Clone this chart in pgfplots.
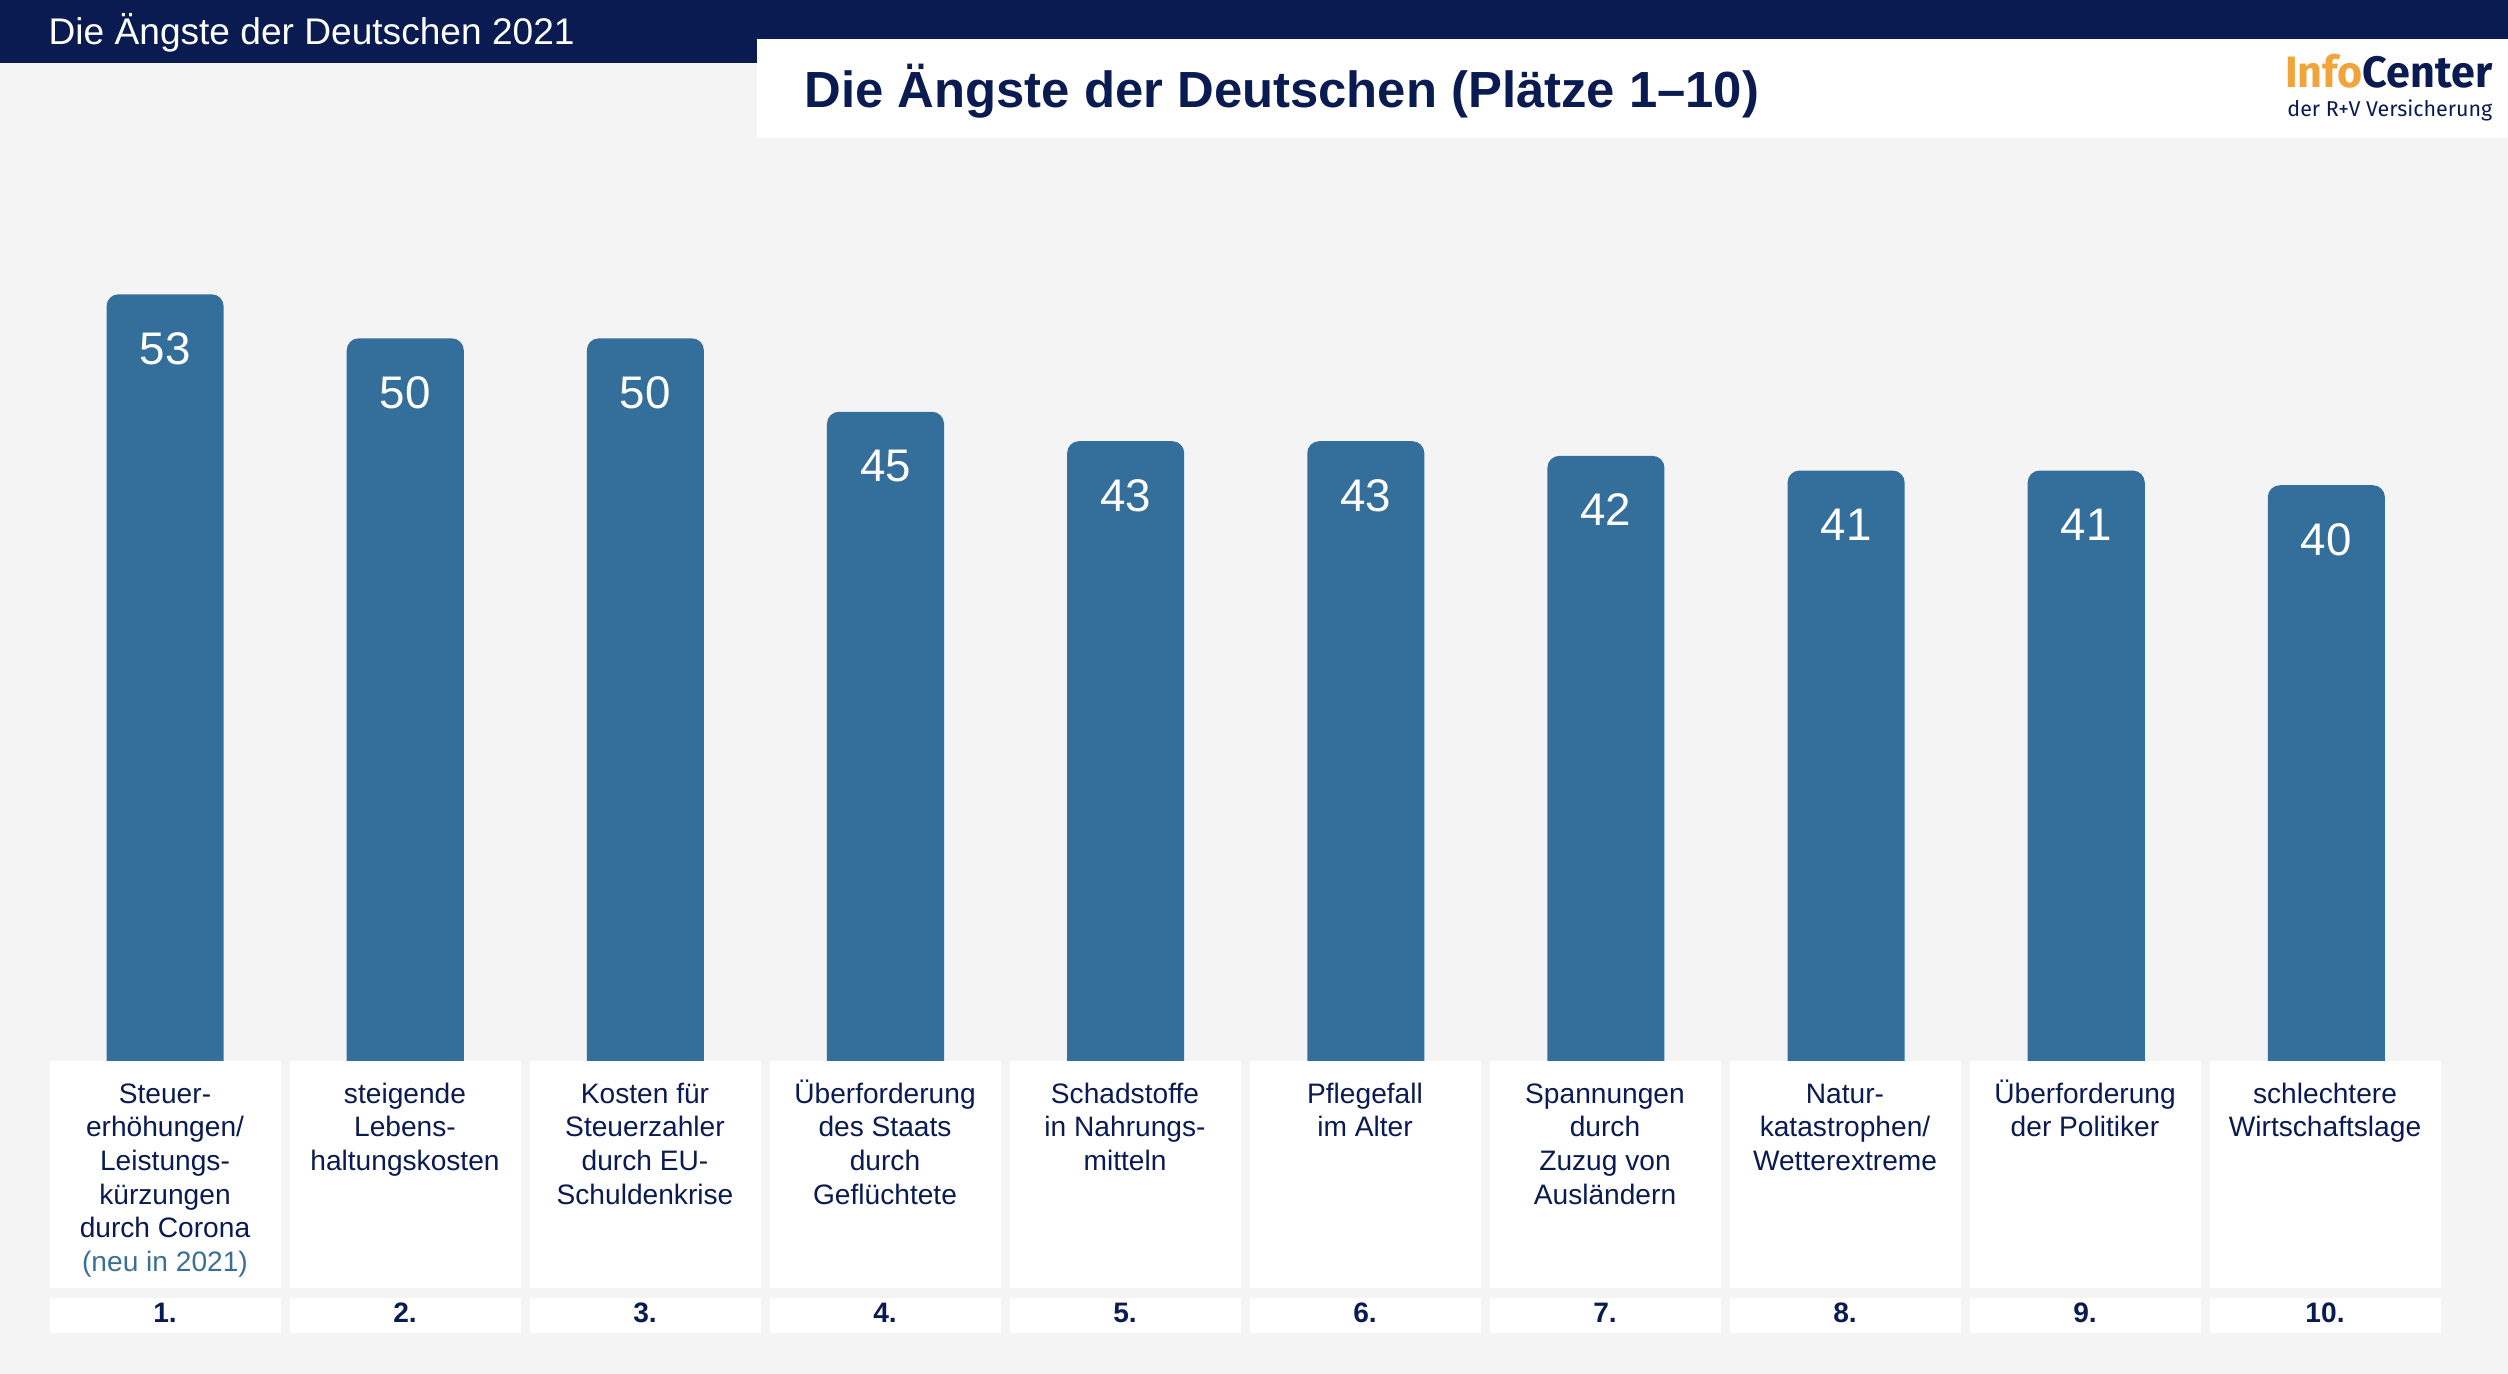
\documentclass[border=0pt]{standalone}
\usepackage{pgfplots}
\pgfplotsset{compat=1.18}
\usepackage{graphicx}
\usepackage{fontspec}
\setmainfont{Liberation Sans}
\newfontfamily\logofont{Fira Sans}

\definecolor{navy}{RGB}{10,27,82}
\definecolor{barblue}{RGB}{51,111,154}
\definecolor{bggray}{RGB}{244,244,244}
\definecolor{logoorange}{RGB}{240,164,58}
\definecolor{neublue}{RGB}{58,112,150}

\begin{document}
\begin{tikzpicture}
% page and header (1 unit = 1 px of the reference, y upwards)
\begin{scope}[x=0.01cm, y=0.01cm]
\fill[bggray] (0,0) rectangle (2508,1374);
\path[use as bounding box] (0,0) rectangle (2508,1374);
\fill[navy] (0,1311) rectangle (757,1374);
\fill[navy] (0,1335) rectangle (2508,1374);
\fill[white] (757,1236) rectangle (2508,1335);
\node[anchor=base west, inner sep=0, text=white, font=\fontsize{10.55}{12}\selectfont]
  at (48,1329) {Die Ängste der Deutschen 2021};
\node[anchor=base west, inner sep=0, text=navy, font=\bfseries\fontsize{14.45}{17}\selectfont]
  at (804,1266) {Die Ängste der Deutschen (Plätze 1–10)};
\node[anchor=base east, inner sep=0, font=\logofont\bfseries\fontsize{12.5}{13}\selectfont]
  at (2493,1286) {\scalebox{0.98}[1]{\textcolor{logoorange}{Info}\textcolor{navy}{Center}}};
\node[anchor=base east, inner sep=0, text=navy, font=\logofont\fontsize{6.1}{7}\selectfont]
  at (2493,1257) {der R+V Versicherung};
\end{scope}

\begin{axis}[
  at={(0.45cm,3.01cm)}, anchor=south west,
  x=2.4cm, y=0.1468cm,
  xmin=0.5, xmax=10.5, ymin=0, ymax=60,
  hide axis, clip=false,
  ybar, bar width=1.17cm,
  nodes near coords={\pgfmathprintnumber[assume math mode=true]{\pgfplotspointmeta}},
  every node near coord/.append style={anchor=base, yshift=-0.7cm, text=white,
    font=\fontsize{13}{15}\selectfont},
]
\addplot[fill=barblue, draw=none, rounded corners=3.4pt] coordinates {
  (1,53) (2,50) (3,50) (4,45) (5,43) (6,43) (7,42) (8,41) (9,41) (10,40)};
\end{axis}

% label boxes
\begin{scope}[x=0.01cm, y=0.01cm]
\foreach \i in {1,...,10} {
  \fill[white] ({165+240*(\i-1)-115.5},86) rectangle ({165+240*(\i-1)+115.5},313);
  \fill[white] ({165+240*(\i-1)-115.5},41) rectangle ({165+240*(\i-1)+115.5},76);
  \node[anchor=base, inner sep=0, text=navy, font=\bfseries\fontsize{8}{9.6}\selectfont]
    at ({165+240*(\i-1)},51) {\i.};
}
\tikzset{lab/.style={anchor=north, inner sep=0, text=navy, align=center,
  font=\fontsize{8}{9.56}\selectfont}}
\node[lab] at (165,295) {\strut Steuer-\\erhöhungen/\\Leistungs-\\kürzungen\\durch Corona\\\textcolor{neublue}{(neu in 2021)}};
\node[lab] at (405,295) {\strut steigende\\Lebens-\\haltungskosten};
\node[lab] at (645,295) {\strut Kosten für\\Steuerzahler\\durch EU-\\Schuldenkrise};
\node[lab] at (885,295) {\strut Überforderung\\des Staats\\durch\\Geflüchtete};
\node[lab] at (1125,295) {\strut Schadstoffe\\in Nahrungs-\\mitteln};
\node[lab] at (1365,295) {\strut Pflegefall\\im Alter};
\node[lab] at (1605,295) {\strut Spannungen\\durch\\Zuzug von\\Ausländern};
\node[lab] at (1845,295) {\strut Natur-\\katastrophen/\\Wetterextreme};
\node[lab] at (2085,295) {\strut Überforderung\\der Politiker};
\node[lab] at (2325,295) {\strut schlechtere\\Wirtschaftslage};
\end{scope}
\end{tikzpicture}
\end{document}
